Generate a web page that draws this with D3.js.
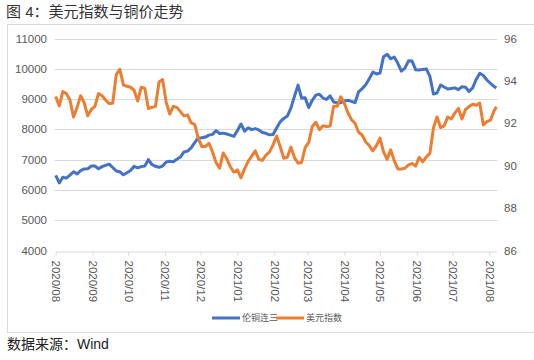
<!DOCTYPE html>
<html>
<head>
<meta charset="utf-8">
<script src="https://cdn.jsdelivr.net/npm/d3@7"></script>
<style>
  body { margin: 0; background: #fff; }
  text { font-family: "Liberation Sans", Arial, "Noto Sans CJK SC", sans-serif; }
</style>
</head>
<body>
<div id="chart"></div>
<script>
// dates (every 3 days)
const dates = [
  "2020-08-01","2020-08-04","2020-08-07","2020-08-10","2020-08-13","2020-08-16","2020-08-19","2020-08-22","2020-08-25","2020-08-28","2020-08-31",
  "2020-09-03","2020-09-06","2020-09-09","2020-09-12","2020-09-15","2020-09-18","2020-09-21","2020-09-24","2020-09-27","2020-09-30",
  "2020-10-03","2020-10-06","2020-10-09","2020-10-12","2020-10-15","2020-10-18","2020-10-21","2020-10-24","2020-10-27","2020-10-30",
  "2020-11-02","2020-11-05","2020-11-08","2020-11-11","2020-11-14","2020-11-17","2020-11-20","2020-11-23","2020-11-26","2020-11-29",
  "2020-12-02","2020-12-05","2020-12-08","2020-12-11","2020-12-14","2020-12-17","2020-12-20","2020-12-23","2020-12-26","2020-12-29",
  "2021-01-01","2021-01-04","2021-01-07","2021-01-10","2021-01-13","2021-01-16","2021-01-19","2021-01-22","2021-01-25","2021-01-28","2021-01-31",
  "2021-02-03","2021-02-06","2021-02-09","2021-02-12","2021-02-15","2021-02-18","2021-02-21","2021-02-24","2021-02-27",
  "2021-03-02","2021-03-05","2021-03-08","2021-03-11","2021-03-14","2021-03-17","2021-03-20","2021-03-23","2021-03-26","2021-03-29",
  "2021-04-01","2021-04-04","2021-04-07","2021-04-10","2021-04-13","2021-04-16","2021-04-19","2021-04-22","2021-04-25","2021-04-28",
  "2021-05-01","2021-05-04","2021-05-07","2021-05-10","2021-05-13","2021-05-16","2021-05-19","2021-05-22","2021-05-25","2021-05-28","2021-05-31",
  "2021-06-03","2021-06-06","2021-06-09","2021-06-12","2021-06-15","2021-06-18","2021-06-21","2021-06-24","2021-06-27","2021-06-30",
  "2021-07-03","2021-07-06","2021-07-09","2021-07-12","2021-07-15","2021-07-18","2021-07-21","2021-07-24","2021-07-27","2021-07-30",
  "2021-08-02","2021-08-05","2021-08-07"
];

// 伦铜连三 (left axis)
const copper = [
  6484,6231,6418,6390,6490,6600,6530,6637,6692,6700,6790,
  6790,6700,6770,6810,6850,6740,6625,6600,6500,6570,
  6640,6780,6730,6770,6790,7000,6840,6780,6747,6790,
  6925,6945,6930,7010,7085,7253,7280,7390,7560,7714,
  7720,7745,7810,7835,7960,7860,7875,7846,7810,7769,
  7960,8176,7940,8050,7989,8025,7980,7895,7870,7820,7830,
  8044,8250,8360,8440,8700,9090,9460,9035,9040,
  8720,8960,9130,9160,9033,8990,9110,8900,8880,8880,
  8935,8960,8925,8880,9240,9345,9470,9670,9890,9830,
  9857,10400,10480,10330,10390,10180,9920,10020,10264,10255,9970,
  9960,9980,9995,9750,9165,9200,9465,9400,9330,9350,
  9370,9310,9410,9390,9250,9370,9650,9850,9780,9630,
  9520,9418,9370
];

// 美元指数 (right axis)
const dollar = [
  93.26,92.82,93.5,93.4,93.1,92.3,92.75,93.3,92.97,92.35,92.65,
  92.8,93.4,93.3,93.1,92.93,92.95,94.3,94.55,93.8,93.75,
  93.7,93.56,93.05,93.7,93.65,92.7,92.75,92.8,93.95,94.06,
  93.0,92.43,92.8,92.75,92.55,92.35,92.4,92.02,91.95,91.3,
  90.9,90.9,91.06,90.65,90.15,89.88,90.6,90.33,89.95,89.7,
  89.8,89.43,89.85,90.2,90.45,90.7,90.3,90.25,90.5,90.65,90.98,
  91.4,90.9,90.35,90.4,90.88,90.38,90.12,90.15,90.85,
  91.1,91.85,92.05,91.7,91.88,91.85,91.87,92.8,92.8,93.25,
  92.95,92.5,92.17,92.0,91.58,91.45,91.12,90.95,90.7,90.95,
  91.3,90.65,90.3,90.75,90.24,89.85,89.85,89.88,90.04,90.1,89.98,
  90.4,90.18,90.42,90.58,91.78,92.3,91.8,91.88,92.3,92.2,
  92.48,92.7,92.2,92.65,92.79,92.9,92.85,92.95,91.92,92.08,
  92.15,92.58,92.78
];

const leftTicks = [4000, 5000, 6000, 7000, 8000, 9000, 10000, 11000];
const rightTicks = [86, 88, 90, 92, 94, 96];
const monthTicks = ["2020-08-01","2020-09-01","2020-10-01","2020-11-01","2020-12-01","2021-01-01",
  "2021-02-01","2021-03-01","2021-04-01","2021-05-01","2021-06-01","2021-07-01","2021-08-01"];
const seriesNames = ["伦铜连三", "美元指数"];
const colors = ["#4472C4", "#ED7D31"];

const W = 534, H = 360;
const plot = { left: 55.7, right: 496.4, top: 38.5, bottom: 250.5 };

const parse = d3.timeParse("%Y-%m-%d");
const xDates = dates.map(parse);

const svg = d3.select("#chart").append("svg")
  .attr("width", W).attr("height", H);

// frame around the chart
svg.append("rect")
  .attr("x", 7.5).attr("y", 24.5)
  .attr("width", 540).attr("height", 308)
  .attr("fill", "none").attr("stroke", "#d9d9d9");

// title
svg.append("text")
  .attr("x", 6).attr("y", 17)
  .attr("font-size", 15).attr("fill", "#333")
  .text("图 4：美元指数与铜价走势");

// source
svg.append("text")
  .attr("x", 7).attr("y", 349)
  .attr("font-size", 14).attr("fill", "#222")
  .text("数据来源：Wind");

const x = d3.scaleTime()
  .domain([parse("2020-08-01"), parse("2021-08-07")])
  .range([plot.left, plot.right]);

const yL = d3.scaleLinear().domain([4000, 11000]).range([plot.bottom, plot.top]);
const yR = d3.scaleLinear().domain([86, 96]).range([plot.bottom, plot.top]);

// gridlines
svg.append("g")
  .selectAll("line")
  .data(leftTicks.slice(1))
  .join("line")
  .attr("x1", plot.left - 1).attr("x2", plot.right + 1)
  .attr("y1", d => Math.round(yL(d)) + 0.5).attr("y2", d => Math.round(yL(d)) + 0.5)
  .attr("stroke", "#d9d9d9");

// left labels
svg.append("g")
  .selectAll("text")
  .data(leftTicks)
  .join("text")
  .attr("x", 47).attr("y", d => yL(d))
  .attr("dy", "0.35em")
  .attr("text-anchor", "end")
  .attr("font-size", 11.5).attr("fill", "#595959")
  .text(d => d);

// right labels
svg.append("g")
  .selectAll("text")
  .data(rightTicks)
  .join("text")
  .attr("x", 504).attr("y", d => yR(d))
  .attr("dy", "0.35em")
  .attr("font-size", 11.5).attr("fill", "#595959")
  .text(d => d);

// x axis
const xAxis = svg.append("g")
  .attr("transform", `translate(0,${Math.round(plot.bottom) + 0.5})`)
  .call(d3.axisBottom(x)
    .tickValues(monthTicks.map(parse))
    .tickSize(4)
    .tickSizeOuter(0)
    .tickFormat(d3.timeFormat("%Y/%m")));

xAxis.select(".domain").attr("stroke", "#d9d9d9");
xAxis.selectAll(".tick line").attr("stroke", "#d9d9d9");
xAxis.selectAll(".tick text")
  .attr("font-size", 11.5)
  .attr("font-family", "Liberation Sans, Arial, sans-serif")
  .attr("fill", "#595959")
  .attr("text-anchor", "start")
  .attr("transform", "rotate(90)")
  .attr("x", 9).attr("y", 0).attr("dy", "0.35em");

// lines
const lineL = d3.line().x((d, i) => x(xDates[i])).y(d => yL(d));
const lineR = d3.line().x((d, i) => x(xDates[i])).y(d => yR(d));

svg.append("path")
  .datum(copper)
  .attr("d", lineL)
  .attr("fill", "none").attr("stroke", colors[0])
  .attr("stroke-width", 3).attr("stroke-linejoin", "round");

svg.append("path")
  .datum(dollar)
  .attr("d", lineR)
  .attr("fill", "none").attr("stroke", colors[1])
  .attr("stroke-width", 3).attr("stroke-linejoin", "round");

// legend
const legend = svg.append("g").attr("transform", "translate(212,318)");
const legendX = [0, 64];
seriesNames.forEach((name, i) => {
  const g = legend.append("g").attr("transform", `translate(${legendX[i]},0)`);
  g.append("line")
    .attr("x1", 0).attr("x2", 28)
    .attr("stroke", colors[i]).attr("stroke-width", 3);
  g.append("text")
    .attr("x", 30).attr("dy", "0.35em")
    .attr("font-size", 9).attr("fill", "#595959")
    .text(name);
});
</script>
</body>
</html>
